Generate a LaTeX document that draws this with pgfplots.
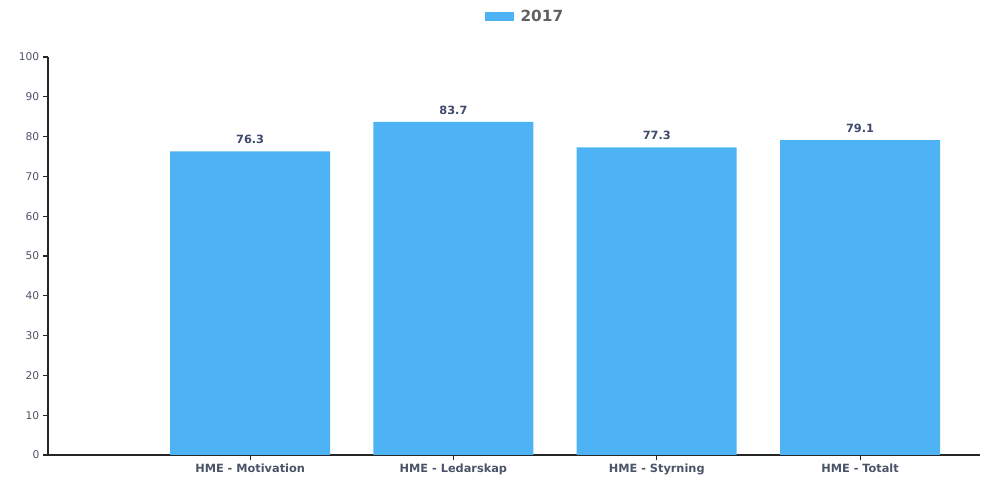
\documentclass[border=0pt]{standalone}
\usepackage{pgfplots}
\pgfplotsset{compat=1.18}
\usepackage{fontspec}
\setmainfont{DejaVu Sans}
\definecolor{barblue}{HTML}{4DB3F5}
\definecolor{labgray}{HTML}{4A5468}
\definecolor{valblue}{HTML}{3D4A6B}
\begin{document}
\begin{tikzpicture}[x=0.75pt,y=0.75pt]
\path[use as bounding box] (0,0) rectangle (982,477);
\begin{axis}[
  at={(48*0.75pt,22*0.75pt)}, anchor=south west,
  scale only axis,
  width=699pt, height=298.5pt,
  xmin=-0.994, xmax=3.59,
  ymin=0, ymax=100,
  axis lines=left,
  axis line style={-, black!85, line width=0.9pt},
  ytick={0,10,...,100},
  xtick={0,1,2,3},
  xticklabels={HME - Motivation, HME - Ledarskap, HME - Styrning, HME - Totalt},
  tick align=outside,
  major tick length=4pt,
  tick style={black!85, line width=0.8pt},
  ticklabel style={font=\fontsize{7.5}{9}\selectfont, text=labgray},
  /pgf/number format/assume math mode=true,
  yticklabel style={font=\fontsize{8}{9}\selectfont, xshift=1pt},
  xticklabel style={font=\fontsize{8.5}{10}\selectfont\bfseries, yshift=1pt},
  clip=false,
  legend style={at={(0.512,1.0)}, anchor=south, yshift=21pt, draw=none, fill=none,
    font=\fontsize{11.5}{13}\selectfont\bfseries, text=black!62,
    /tikz/every even column/.append style={column sep=0pt}},
  legend image code/.code={\fill[barblue] (0pt,-3.5pt) rectangle (22pt,3.5pt);},
  legend cell align=left,
  nodes near coords,
  nodes near coords style={font=\fontsize{8.5}{10}\selectfont\bfseries, text=valblue, yshift=2pt,
    /pgf/number format/fixed, /pgf/number format/precision=1, /pgf/number format/fixed zerofill},
]
\addplot[ybar, bar width=0.787, fill=barblue, draw=none] coordinates {(0,76.3) (1,83.7) (2,77.3) (3,79.1)};
\addlegendentry{\hspace{3pt}2017}
\end{axis}
\end{tikzpicture}
\end{document}
